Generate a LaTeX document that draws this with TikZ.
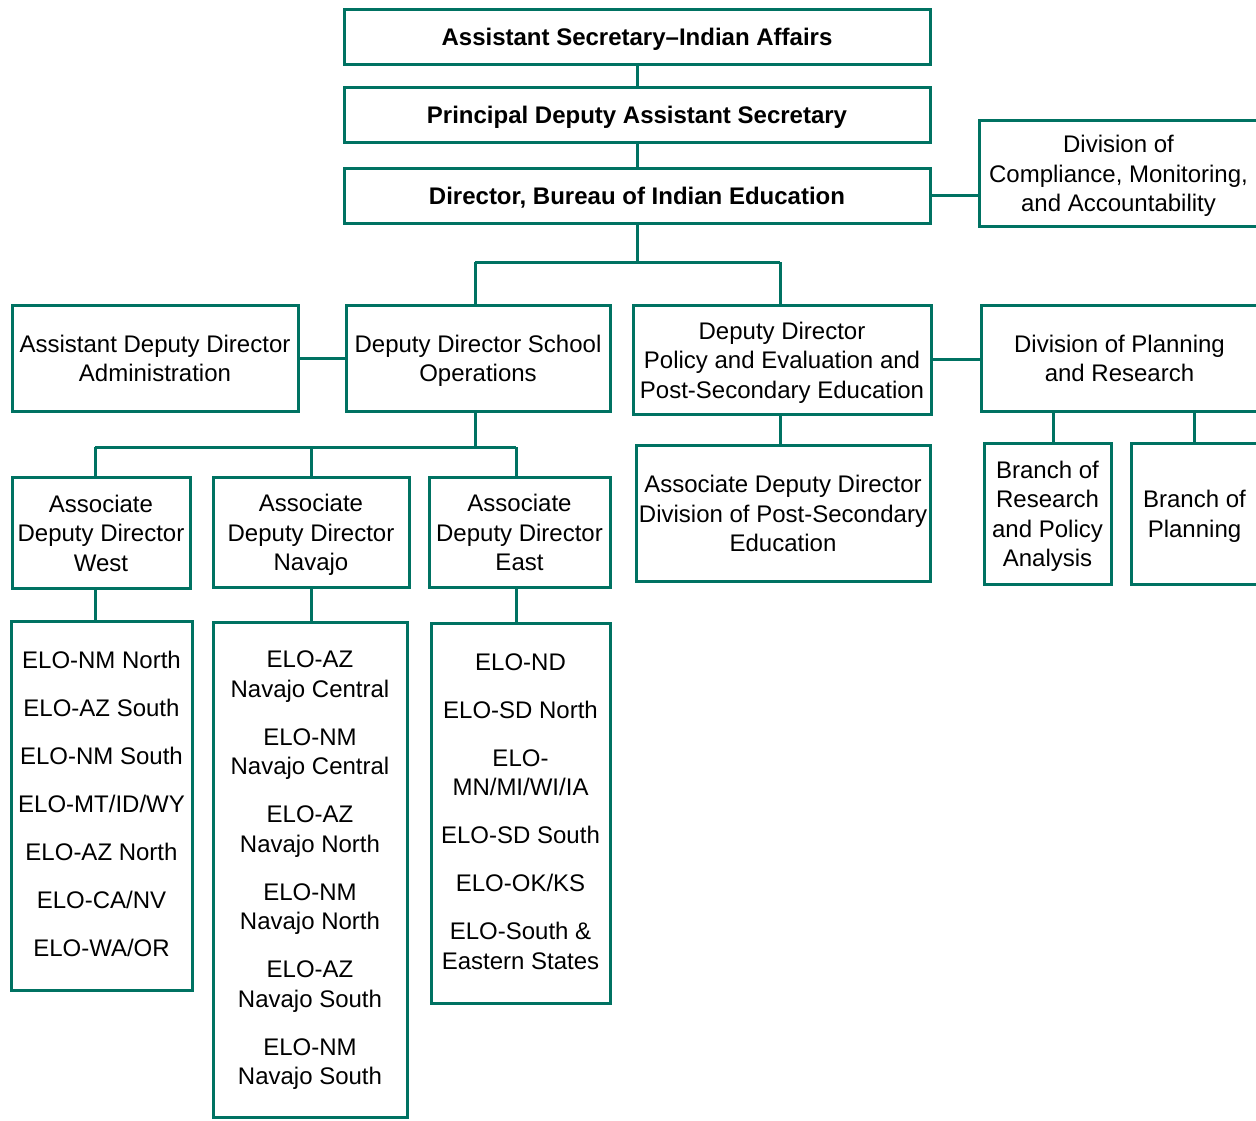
\documentclass[tikz,border=0pt]{standalone}
\usepackage{fontspec}
\setmainfont{Liberation Sans}
\definecolor{teal}{RGB}{0,114,98}
\newcommand\myhead{\rule{0pt}{26pt}}
\newcommand\myheadl{\rule{0pt}{21pt}}
\newcommand\mytail{\rule[-8pt]{0pt}{8pt}}
\tikzset{
  box/.style={draw=teal, line width=3pt, rectangle, inner sep=0pt, outer sep=0pt, align=center,
    font=\fontsize{24}{29.5}\selectfont, text=black},
  bbox/.style={box, font=\fontsize{24}{29.5}\selectfont\bfseries},
  link/.style={draw=teal, line width=3pt}
}
\begin{document}
\begin{tikzpicture}[x=1pt,y=-1pt]
\useasboundingbox (0,0) rectangle (1256,1120);
\fill[white] (0,0) rectangle (1256,1120);
% top chain
\node[bbox, minimum width=586, minimum height=55] (asia) at (637,36.5) {\myhead Assistant Secretary--Indian Affairs\mytail};
\node[bbox, minimum width=586, minimum height=55] (pdas) at (637,114.5) {\myhead Principal Deputy Assistant Secretary\mytail};
\node[bbox, minimum width=586, minimum height=55] (dir) at (637,195.5) {\myhead Director, Bureau of Indian Education\mytail};
\node[box, minimum width=279, minimum height=106] (dcma) at (1118.5,173) {\myhead Division of\\Compliance, Monitoring,\\and Accountability\mytail};
% second level
\node[box, minimum width=286, minimum height=106] (admin) at (155,358) {\myhead Assistant Deputy Director\\Administration\mytail};
\node[box, minimum width=264, minimum height=106] (ops) at (478,358) {\myhead Deputy Director School\\Operations\mytail};
\node[box, minimum width=298, minimum height=109] (pol) at (782,359.5) {\myhead Deputy Director\\Policy and Evaluation and\\Post-Secondary Education\mytail};
\node[box, minimum width=277, minimum height=106] (dpr) at (1119.5,358) {\myhead Division of Planning\\and Research\mytail};
% third level
\node[box, minimum width=127, minimum height=141] (bra) at (1047.5,513.5) {\myhead Branch of\\Research\\and Policy\\Analysis\mytail};
\node[box, minimum width=127, minimum height=141] (brp) at (1194.5,513.5) {\myhead Branch of\\Planning\mytail};
\node[box, minimum width=294, minimum height=136] (pse) at (783,513) {\myhead Associate Deputy Director\\Division of Post-Secondary\\Education\mytail};
\node[box, minimum width=178, minimum height=111] (west) at (101,532.5) {\myhead Associate\\Deputy Director\\West\mytail};
\node[box, minimum width=196, minimum height=110] (nav) at (311,532) {\myhead Associate\\Deputy Director\\Navajo\mytail};
\node[box, minimum width=181, minimum height=110] (east) at (519.5,532) {\myhead Associate\\Deputy Director\\East\mytail};
% ELO lists
\node[box, minimum width=181, minimum height=369] (ewest) at (101.5,805.5) {\myheadl ELO-NM North\\[18.5pt]ELO-AZ South\\[18.5pt]ELO-NM South\\[18.5pt]ELO-MT/ID/WY\\[18.5pt]ELO-AZ North\\[18.5pt]ELO-CA/NV\\[18.5pt]ELO-WA/OR\mytail};
\node[box, minimum width=194, minimum height=495] (enav) at (310,869.5) {\myheadl ELO-AZ\\Navajo Central\\[18.5pt]ELO-NM\\Navajo Central\\[18.5pt]ELO-AZ\\Navajo North\\[18.5pt]ELO-NM\\Navajo North\\[18.5pt]ELO-AZ\\Navajo South\\[18.5pt]ELO-NM\\Navajo South\mytail};
\node[box, minimum width=179, minimum height=380] (eeast) at (520.5,813) {\myheadl ELO-ND\\[18.5pt]ELO-SD North\\[18.5pt]ELO-\\MN/MI/WI/IA\\[18.5pt]ELO-SD South\\[18.5pt]ELO-OK/KS\\[18.5pt]ELO-South \&\\Eastern States\mytail};
% junction coordinates
\coordinate (b1l) at (475,262);
\coordinate (b1r) at (780,262);
\coordinate (b2l) at (95,447);
\coordinate (b2r) at (516,447);
\coordinate (kb) at (1053,411);
\coordinate (kp) at (1194,411);
% connectors
\draw[link] (asia.south) -- (pdas.north);
\draw[link] (pdas.south) -- (dir.north);
\draw[link] (dir.east) -- (dir.east -| dcma.west);
\draw[link] (dir.south) -- (dir.south |- b1l);
\draw[link] (b1l) -- (b1r);
\draw[link] (b1l) -- (b1l |- ops.north);
\draw[link] (b1r) -- (b1r |- pol.north);
\draw[link] (admin.east) -- (ops.west);
\draw[link] (pol.east) -- (pol.east -| dpr.west);
\draw[link] (b1r |- pol.south) -- (b1r |- pse.north);
\draw[link] (kb) -- (kb |- bra.north);
\draw[link] (kp) -- (kp |- brp.north);
\draw[link] (b1l |- ops.south) -- (b1l |- b2l);
\draw[link] (b2l) -- (b2r);
\draw[link] (b2l) -- (b2l |- west.north);
\draw[link] (nav.north |- b2l) -- (nav.north);
\draw[link] (b2r) -- (b2r |- east.north);
\draw[link] (b2l |- west.south) -- (b2l |- ewest.north);
\draw[link] (nav.south) -- (nav.south |- enav.north);
\draw[link] (b2r |- east.south) -- (b2r |- eeast.north);
\end{tikzpicture}
\end{document}
